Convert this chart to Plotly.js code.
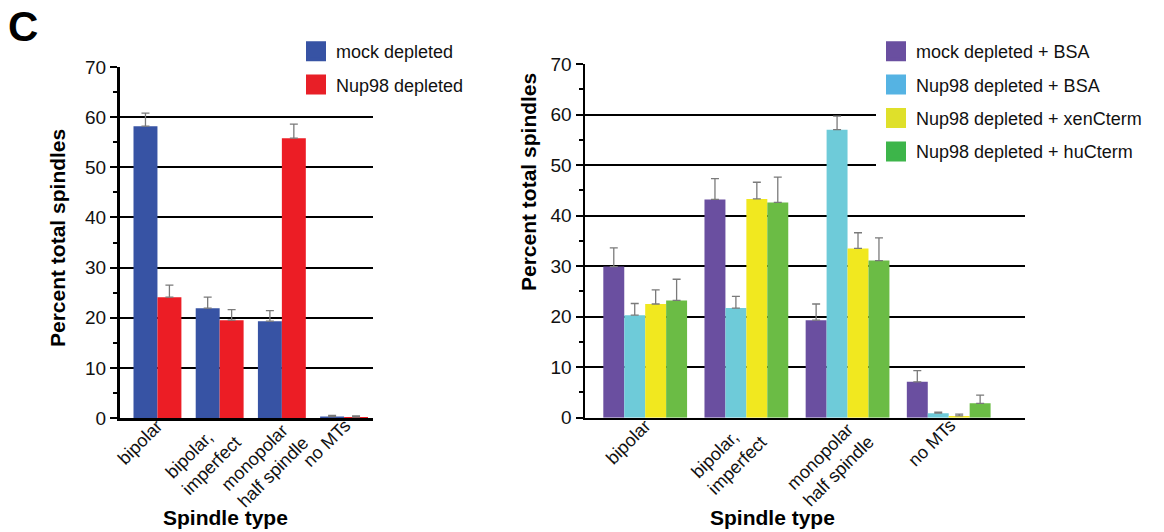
<!DOCTYPE html>
<html><head><meta charset="utf-8">
<script src="https://cdn.plot.ly/plotly-3.0.1.min.js"></script>
<style>html,body{margin:0;padding:0;background:#fff}#chart{width:1164px;height:532px}</style>
</head><body><div id="chart"></div>
<script>
// ---- data ----
const categories = ['bipolar', 'bipolar,<br>imperfect', 'monopolar<br>half spindle', 'no MTs'];

const leftNames = ['mock depleted', 'Nup98 depleted'];
const mockDepleted = [58.2, 21.9, 19.3, 0.3];
const mockDepletedErr = [2.6, 2.2, 2.1, 0.2];
const nup98Depleted = [24.1, 19.5, 55.8, 0.2];
const nup98DepletedErr = [2.4, 2.1, 2.8, 0.2];

const rightNames = ['mock depleted + BSA', 'Nup98 depleted + BSA', 'Nup98 depleted + xenCterm', 'Nup98 depleted + huCterm'];
const mockBSA = [29.9, 43.2, 19.3, 7.1];
const mockBSAErr = [3.7, 4.1, 3.2, 2.2];
const nupBSA = [20.3, 21.7, 57.0, 0.9];
const nupBSAErr = [2.3, 2.3, 2.7, 0.2];
const nupXen = [22.5, 43.3, 33.5, 0.35];
const nupXenErr = [2.8, 3.3, 3.1, 0.35];
const nupHu = [23.2, 42.6, 31.1, 2.85];
const nupHuErr = [4.2, 5.0, 4.5, 1.6];

const noLowerErr = [0, 0, 0, 0];
const yTickVals = [0, 10, 20, 30, 40, 50, 60, 70];

// ---- styles ----
const leftColors = ['#3753a4', '#ec1d25'];
const leftLegendColors = ['#3753a4', '#e81f27'];
const rightColors = ['#6a4fa0', '#6ecbd9', '#f1e81f', '#6bbc45'];
const rightLegendColors = ['#6a4fa0', '#55b3e3', '#dfe02a', '#3db54a'];
const FONT = 'Liberation Sans, Arial, Helvetica, sans-serif';
const W = 1164, H = 532;
const px = v => v / W, py = v => 1 - v / H;

function errSpec(arr) {
  return {type: 'data', symmetric: false, array: arr, arrayminus: noLowerErr,
          color: '#7a7a7a', thickness: 1.3, width: 4};
}

const traces = [];
const leftVals = [mockDepleted, nup98Depleted];
const leftErrs = [mockDepletedErr, nup98DepletedErr];
leftVals.forEach((v, i) => {
  traces.push({type: 'bar', x: categories, y: v, name: leftNames[i], xaxis: 'x', yaxis: 'y',
    marker: {color: leftColors[i], line: {width: 0}}, error_y: errSpec(leftErrs[i]),
    showlegend: false, hoverinfo: 'y'});
});
const rightVals = [mockBSA, nupBSA, nupXen, nupHu];
const rightErrs = [mockBSAErr, nupBSAErr, nupXenErr, nupHuErr];
const rw = 0.207;
rightVals.forEach((v, i) => {
  traces.push({type: 'bar', x: categories, y: v, name: rightNames[i], xaxis: 'x2', yaxis: 'y2',
    width: rw, offset: -2 * rw + i * rw,
    marker: {color: rightColors[i], line: {width: 0}}, error_y: errSpec(rightErrs[i]),
    showlegend: false, hoverinfo: 'y'});
});
// legend entries
leftNames.forEach((n, i) => {
  traces.push({type: 'scatter', mode: 'markers', x: [null], y: [null], xaxis: 'x', yaxis: 'y',
    name: n, legend: 'legend', legendgroup: 'L' + i,
    marker: {symbol: 'square', size: 16, color: leftLegendColors[i], line: {width: 4, color: leftLegendColors[i]}}});
});
rightNames.forEach((n, i) => {
  traces.push({type: 'scatter', mode: 'markers', x: [null], y: [null], xaxis: 'x2', yaxis: 'y2',
    name: n, legend: 'legend2', legendgroup: 'R' + i,
    marker: {symbol: 'square', size: 16, color: rightLegendColors[i], line: {width: 4, color: rightLegendColors[i]}}});
});

function yAxis(dom, anchor) {
  return {domain: dom, range: [0, 70], anchor: anchor, tickvals: yTickVals,
    showgrid: true, gridcolor: '#000', gridwidth: 2, zeroline: false,
    showline: true, linecolor: '#000', linewidth: 2.5,
    ticks: 'outside', ticklen: 7, tickwidth: 2, tickcolor: '#000',
    minor: {dtick: 5, ticks: 'outside', ticklen: 4, tickwidth: 2, tickcolor: '#000', showgrid: false},
    tickfont: {family: FONT, size: 19, color: '#111'}, automargin: false, fixedrange: true};
}
function xAxis(dom, range, anchor) {
  return {domain: dom, range: range, type: 'category', anchor: anchor,
    showline: true, linecolor: '#000', linewidth: 2.5, ticks: '', showgrid: false,
    showticklabels: false, automargin: false, fixedrange: true};
}

const legendBase = {xanchor: 'left', yanchor: 'top', bgcolor: '#fff', borderwidth: 0,
  font: {family: FONT, size: 18, color: '#111'}, tracegroupgap: 7, itemclick: false, itemdoubleclick: false};

const titleFont = {family: FONT, size: 21, color: '#000', weight: 'bold'};
const catFont = {family: FONT, size: 18, color: '#111'};

const annotations = [
  {text: 'C', xref: 'paper', yref: 'paper', x: px(6), y: py(26), xanchor: 'left', yanchor: 'middle',
   showarrow: false, font: {family: FONT, size: 42, color: '#000', weight: 'bold'}},
  {text: 'Spindle type', xref: 'paper', yref: 'paper', x: px(225), y: py(517), xanchor: 'center', yanchor: 'middle',
   showarrow: false, font: titleFont},
  {text: 'Spindle type', xref: 'paper', yref: 'paper', x: px(772), y: py(517), xanchor: 'center', yanchor: 'middle',
   showarrow: false, font: titleFont},
  {text: 'Percent total spindles', xref: 'paper', yref: 'paper', x: px(57), y: py(238), xanchor: 'center', yanchor: 'middle',
   textangle: -90, showarrow: false, font: titleFont},
  {text: 'Percent total spindles', xref: 'paper', yref: 'paper', x: px(529), y: py(182), xanchor: 'center', yanchor: 'middle',
   textangle: -90, showarrow: false, font: titleFont}
];
// rotated category labels for both panels
[['x', 'y'], ['x2', 'y2']].forEach(([xr, yr]) => {
  categories.forEach(c => {
    annotations.push({text: c, xref: xr, yref: yr, x: c, y: 0, xanchor: 'center', yanchor: 'top',
      xshift: -17, yshift: 5, textangle: -45, align: 'left', showarrow: false, font: catFont});
  });
});

const layout = {
  width: W, height: H, margin: {l: 0, r: 0, t: 0, b: 0},
  paper_bgcolor: '#fff', plot_bgcolor: 'rgba(0,0,0,0)',
  barmode: 'group', bargap: 0.23, bargroupgap: 0,
  xaxis: xAxis([px(119.5), px(373)], [-0.61, 3.465], 'y'),
  yaxis: yAxis([py(418), py(67)], 'x'),
  xaxis2: xAxis([px(585), px(1025)], [-0.595, 3.754], 'y2'),
  yaxis2: yAxis([py(417.7), py(64)], 'x2'),
  legend: Object.assign({}, legendBase, {x: px(296), y: py(33)}),
  legend2: Object.assign({}, legendBase, {x: px(876), y: py(33)}),
  annotations: annotations
};

Plotly.newPlot('chart', traces, layout, {displayModeBar: false, staticPlot: true});
</script>
</body></html>
